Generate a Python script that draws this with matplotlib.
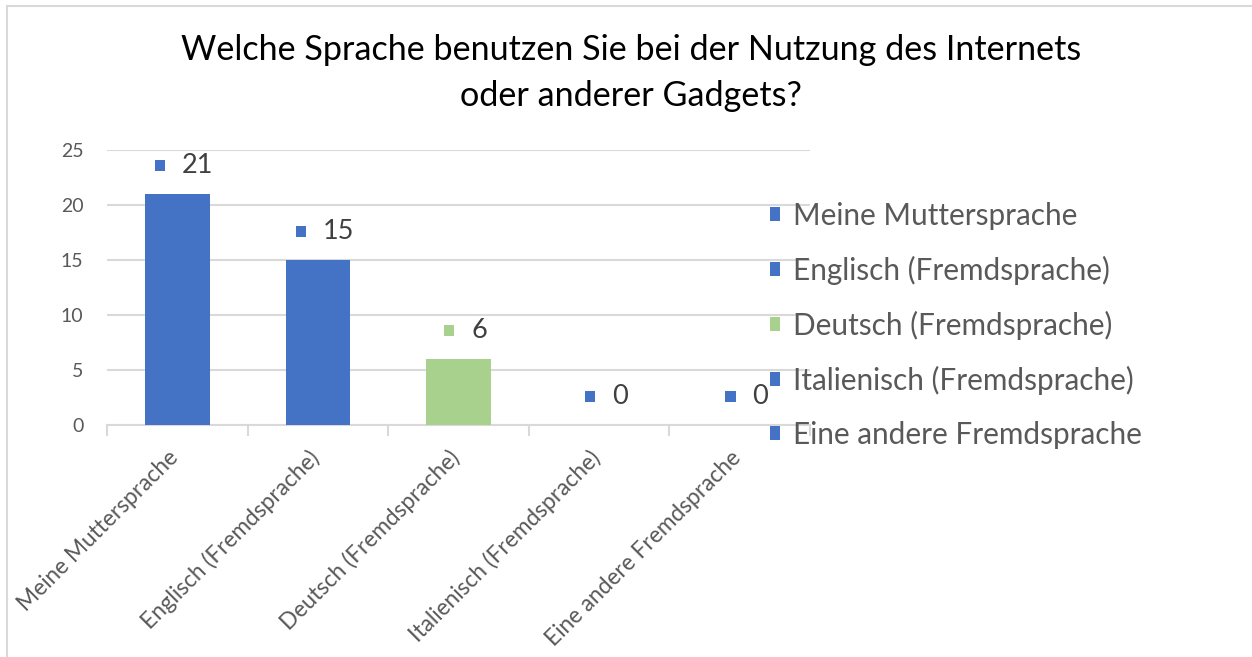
import matplotlib
matplotlib.use("Agg")
import matplotlib.pyplot as plt
import matplotlib.transforms as mtransforms
from matplotlib.offsetbox import AnnotationBbox, HPacker, DrawingArea, TextArea
from matplotlib.patches import Rectangle
from matplotlib.lines import Line2D

categories = ["Meine Muttersprache", "Englisch (Fremdsprache)", "Deutsch (Fremdsprache)",
              "Italienisch (Fremdsprache)", "Eine andere Fremdsprache"]
values = [21, 15, 6, 0, 0]
colors = ["#4472C4", "#4472C4", "#A9D18E", "#4472C4", "#4472C4"]
yticks = [0, 5, 10, 15, 20, 25]
title = "Welche Sprache benutzen Sie bei der Nutzung des Internets\noder anderer Gadgets?"

FONT = "Lato"
GRAY = "#595959"
GRID = "#D9D9D9"

W, H = 1252, 657
fig = plt.figure(figsize=(W / 100, H / 100), dpi=100)
fig.patch.set_facecolor("white")

ax = fig.add_axes([107 / W, 1 - 425 / H, (810 - 107) / W, (425 - 150) / H])
ax.set_xlim(-0.5, len(categories) - 0.5)
ax.set_ylim(0, 25)

for i, (c, v, col) in enumerate(zip(categories, values, colors)):
    ax.bar(i, v, width=0.46, color=col, label=c, zorder=3)

# gridlines
ax.set_yticks(yticks)
ax.yaxis.grid(True, color=GRID, linewidth=1.5, zorder=0)
ax.set_axisbelow(True)
for s in ["top", "right", "left"]:
    ax.spines[s].set_visible(False)
ax.spines["bottom"].set_color(GRID)
ax.spines["bottom"].set_linewidth(1.5)
ax.tick_params(axis="y", length=0, pad=17, labelsize=14, labelcolor=GRAY)
for lab in ax.get_yticklabels():
    lab.set_fontfamily(FONT)

# x ticks
ax.set_xticks(range(len(categories)))
ax.set_xticklabels(categories, rotation=45, ha="right", va="center",
                   rotation_mode="anchor", fontsize=16.3, color=GRAY, fontfamily=FONT)
ax.tick_params(axis="x", which="major", length=0, pad=21)
ax.set_xticks([i - 0.5 for i in range(len(categories) + 1)], minor=True)
ax.tick_params(axis="x", which="minor", length=8, width=1.5, color=GRID, direction="out")
offset = mtransforms.ScaledTranslation(-2 / 100, 0, fig.dpi_scale_trans)
for lab in ax.get_xticklabels():
    lab.set_transform(lab.get_transform() + offset)

# data labels: colored square + value
for i, (v, col) in enumerate(zip(values, colors)):
    da = DrawingArea(7.5, 7.5, 0, 0)
    da.add_artist(Rectangle((0, 0), 7.5, 7.5, facecolor=col, edgecolor="none"))
    ta = TextArea(str(v), textprops=dict(fontsize=19.5, color="#404040", fontfamily=FONT))
    pack = HPacker(children=[da, ta], align="center", pad=0, sep=12)
    ab = AnnotationBbox(pack, (i, v), xybox=(5, 20.5), xycoords="data",
                        boxcoords="offset points", frameon=False, box_alignment=(0.5, 0.5),
                        annotation_clip=False)
    ax.add_artist(ab)

# legend
leg = ax.legend(loc="upper left", bbox_to_anchor=(770 / W, 1 - 202 / H),
                bbox_transform=fig.transFigure, frameon=False, borderaxespad=0, borderpad=0,
                handlelength=0.34, handleheight=0.34, handletextpad=0.42, labelspacing=0.87,
                prop=dict(family=FONT, size=21.4))
for t in leg.get_texts():
    t.set_color(GRAY)

# title
fig.text(631 / W, 1 - 73 / H, title, ha="center", va="center", fontsize=24.6,
         fontfamily=FONT, color="black", linespacing=1.5)

# outer border (top and left)
fig.add_artist(Line2D([7 / W, 1], [1 - 6 / H, 1 - 6 / H], transform=fig.transFigure,
                      color=GRID, linewidth=1.5))
fig.add_artist(Line2D([7 / W, 7 / W], [0, 1 - 6 / H], transform=fig.transFigure,
                      color=GRID, linewidth=1.5))

fig.savefig("out.png", dpi=100)
